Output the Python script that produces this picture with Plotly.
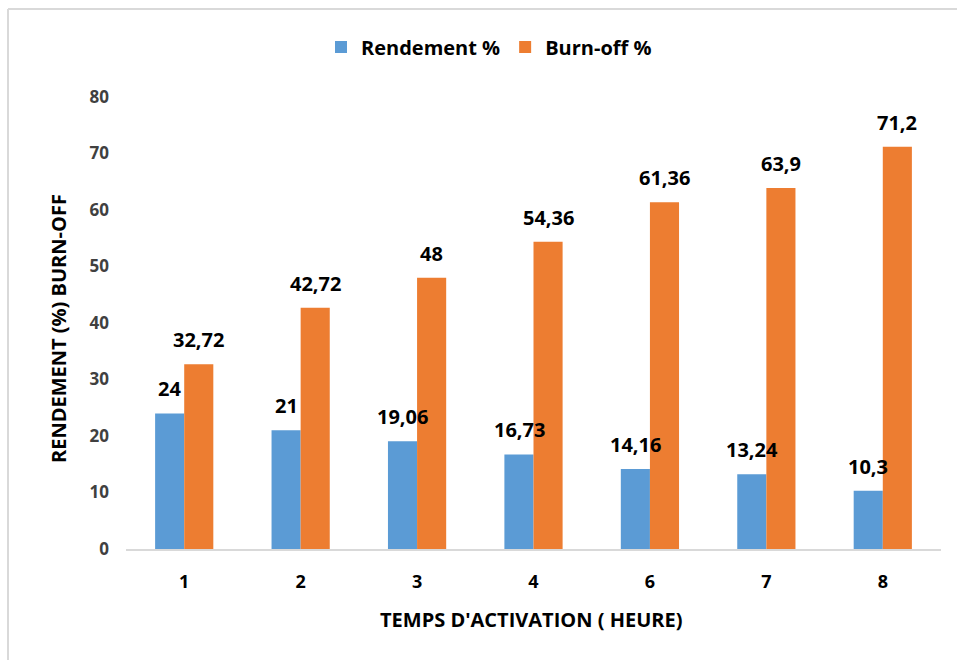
import plotly.graph_objects as go

categories = ["1", "2", "3", "4", "6", "7", "8"]
rendement = [24, 21, 19.06, 16.73, 14.16, 13.24, 10.3]
burnoff = [32.72, 42.72, 48, 54.36, 61.36, 63.9, 71.2]
rendement_labels = ["24", "21", "19,06", "16,73", "14,16", "13,24", "10,3"]
burnoff_labels = ["32,72", "42,72", "48", "54,36", "61,36", "63,9", "71,2"]
y_ticks = [0, 10, 20, 30, 40, 50, 60, 70, 80]

FONT = "Open Sans"
BLUE = "#5B9BD5"
ORANGE = "#ED7D31"

fig = go.Figure()
fig.add_trace(go.Bar(x=categories, y=rendement, name="Rendement %",
                     marker=dict(color=BLUE, line=dict(width=0))))
fig.add_trace(go.Bar(x=categories, y=burnoff, name="Burn-off %",
                     marker=dict(color=ORANGE, line=dict(width=0))))

label_font = dict(family=FONT, size=20, color="#000000", weight="bold")
annotations = []
for i, (v, t) in enumerate(zip(rendement, rendement_labels)):
    annotations.append(dict(x=i, y=v, text=t, showarrow=False, xref="x", yref="y",
                            xshift=-14.5, yshift=9, xanchor="center", yanchor="bottom",
                            font=label_font))
for i, (v, t) in enumerate(zip(burnoff, burnoff_labels)):
    annotations.append(dict(x=i, y=v, text=t, showarrow=False, xref="x", yref="y",
                            xshift=14.5, yshift=9, xanchor="center", yanchor="bottom",
                            font=label_font))

L, R, T, B = 126, 16, 97, 111
W, H = 957, 660
pw, ph = W - L - R, H - T - B

def px_x(p):
    return (p - L) / pw

def px_y(p):
    return (H - B - p) / ph

annotations.append(dict(x=px_x(58), y=px_y(329), xref="paper", yref="paper",
                        xanchor="center", yanchor="middle",
                        text="RENDEMENT (%) BURN-OFF", textangle=-90, showarrow=False,
                        font=dict(family=FONT, size=20, color="#000000", weight="bold")))
annotations.append(dict(x=px_x(531), y=px_y(619), xref="paper", yref="paper",
                        xanchor="center", yanchor="middle",
                        text="TEMPS D'ACTIVATION ( HEURE)", showarrow=False,
                        font=dict(family=FONT, size=20, color="#000000", weight="bold")))

shapes = [
    dict(type="line", xref="paper", yref="paper", x0=px_x(8), x1=px_x(960),
         y0=px_y(9), y1=px_y(9), line=dict(color="#D9D9D9", width=2)),
    dict(type="line", xref="paper", yref="paper", x0=px_x(8), x1=px_x(8),
         y0=px_y(9), y1=px_y(662), line=dict(color="#D9D9D9", width=2)),
]

fig.update_layout(
    width=W, height=H,
    margin=dict(l=L, r=R, t=T, b=B, autoexpand=False),
    paper_bgcolor="white", plot_bgcolor="white",
    barmode="group", bargap=0.5, bargroupgap=0,
    showlegend=True,
    legend=dict(orientation="h", x=px_x(489), xanchor="center", y=px_y(47), yanchor="middle",
                font=dict(family=FONT, size=20, color="#000000", weight="bold"),
                itemsizing="constant", itemwidth=30, traceorder="normal"),
    annotations=annotations,
    shapes=shapes,
    xaxis=dict(type="category", showgrid=False, showline=True, linecolor="#D9D9D9",
               linewidth=2, ticks="", ticklabelstandoff=15,
               tickfont=dict(family=FONT, size=18, color="#000000", weight="bold")),
    yaxis=dict(range=[0, 80], tickvals=y_ticks, showgrid=False, showline=False,
               zeroline=False, ticks="", ticklabelstandoff=16,
               tickfont=dict(family=FONT, size=17, color="#404040", weight="bold")),
)

fig.write_html("out.html")
